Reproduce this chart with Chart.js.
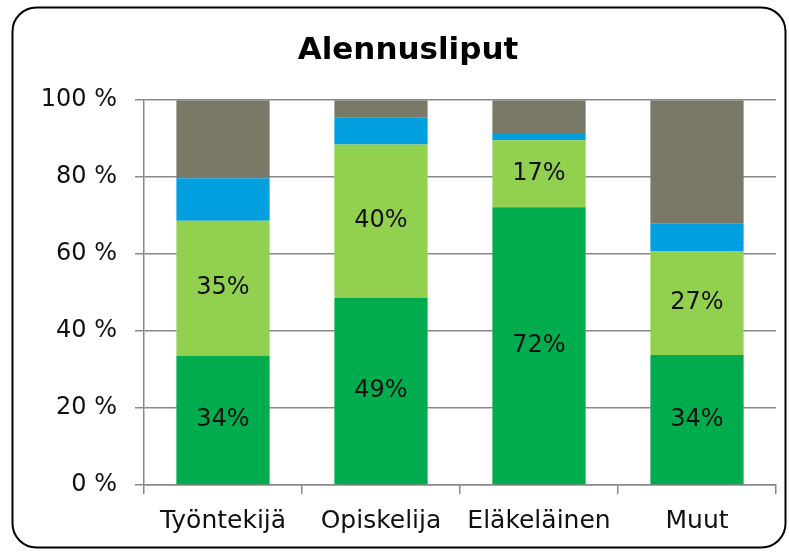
<!DOCTYPE html>
<html><head><meta charset="utf-8">
<script src="https://cdn.jsdelivr.net/npm/chart.js@4/dist/chart.umd.min.js"></script>
<style>html,body{margin:0;padding:0;background:#fff;}#wrap{width:789px;height:553px;position:relative;}</style>
</head><body><div id="wrap"><canvas id="c" width="789" height="553"></canvas></div>
<script>
const categories = ["Työntekijä", "Opiskelija", "Eläkeläinen", "Muut"];
const seriesDark = [33.6, 48.6, 72.2, 33.8];
const seriesLight = [35.1, 39.9, 17.4, 26.9];
const seriesBlue = [11.0, 7.1, 1.6, 7.2];
const seriesGray = [20.3, 4.4, 8.8, 32.1];
const yTicks = [0, 20, 40, 60, 80, 100];
const title = "Alennusliput";

const FONT = "'DejaVu Sans', Verdana, sans-serif";

const frame = {
  id: 'frame',
  beforeDraw(chart) {
    const ctx = chart.ctx;
    ctx.save();
    ctx.fillStyle = '#fff';
    ctx.fillRect(0, 0, chart.width, chart.height);
    ctx.beginPath();
    ctx.roundRect(12.5, 7.5, 773, 540, 24);
    ctx.lineWidth = 2;
    ctx.strokeStyle = '#000';
    ctx.stroke();
    ctx.restore();
  }
};

const labels = {
  id: 'labels',
  afterDatasetsDraw(chart) {
    const ctx = chart.ctx;
    ctx.save();
    ctx.font = "24px " + FONT;
    ctx.fillStyle = '#111';
    ctx.textAlign = 'center';
    ctx.textBaseline = 'middle';
    [0, 1].forEach(di => {
      const meta = chart.getDatasetMeta(di);
      meta.data.forEach((bar, i) => {
        const v = chart.data.datasets[di].data[i];
        const y = (bar.y + bar.base) / 2;
        ctx.fillText(Math.round(v) + '%', bar.x, y);
      });
    });
    ctx.restore();
  }
};

const ds = (data, color) => ({data, backgroundColor: color, borderWidth: 0, barPercentage: 0.59, categoryPercentage: 1});

new Chart(document.getElementById('c'), {
  type: 'bar',
  data: {
    labels: categories,
    datasets: [
      ds(seriesDark, '#00AC4E'),
      ds(seriesLight, '#92D050'),
      ds(seriesBlue, '#009FDF'),
      ds(seriesGray, '#7A7968')
    ]
  },
  options: {
    responsive: false,
    animation: false,
    layout: {padding: {left: 40, right: 13, top: 0, bottom: 5}},
    plugins: {
      legend: {display: false},
      tooltip: {enabled: false},
      title: {display: true, text: title, color: '#000', font: {family: FONT, size: 31, weight: 'bold'}, padding: {top: 32, bottom: 31}}
    },
    scales: {
      x: {
        stacked: true,
        grid: {offset: true, drawOnChartArea: false, drawTicks: true, tickLength: 9, color: '#888', lineWidth: 1.5},
        border: {display: true, color: '#888', width: 1.5},
        ticks: {color: '#111', font: {family: FONT, size: 25}, padding: 12}
      },
      y: {
        stacked: true,
        min: 0, max: 100,
        afterBuildTicks(scale) { scale.ticks = yTicks.map(v => ({value: v})); },
        afterFit(scale) { scale.width = 104; },
        grid: {color: '#888', lineWidth: 1.5, tickLength: 9},
        border: {display: true, color: '#888', width: 1.5},
        ticks: {color: '#111', font: {family: FONT, size: 24}, padding: 18, callback: v => v + ' %'}
      }
    }
  },
  plugins: [frame, labels]
});
</script></body></html>
